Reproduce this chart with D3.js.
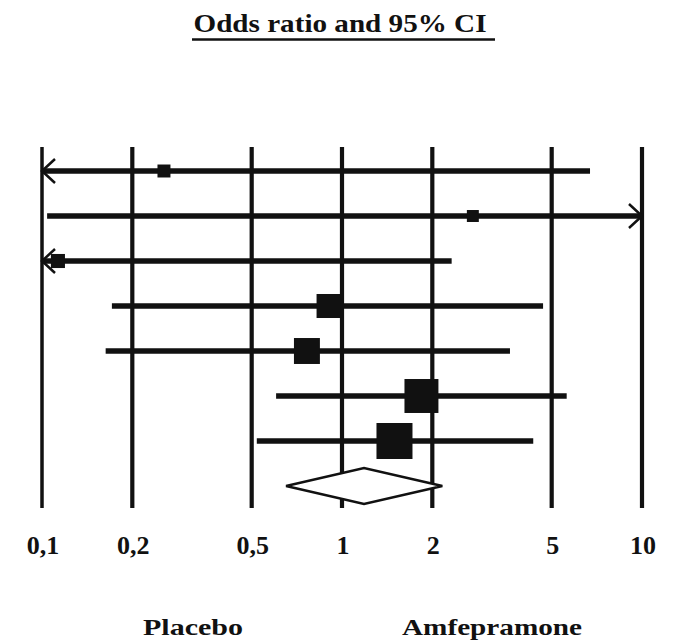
<!DOCTYPE html>
<html>
<head>
<meta charset="utf-8">
<script src="https://cdn.jsdelivr.net/npm/d3@7"></script>
<style>
  html, body { margin: 0; padding: 0; background: #fff; }
  svg { display: block; }
  text { font-family: "Liberation Serif", "Times New Roman", serif; fill: #111; }
</style>
</head>
<body>
<svg id="chart" width="675" height="643"></svg>
<script>
// Per-study odds ratios with 95% confidence limits (null = beyond the axis)
const studies  = ["S1", "S2", "S3", "S4", "S5", "S6", "S7"];
const oddsRatio = [0.255, 2.73, 0.113, 0.902, 0.764, 1.84, 1.496];
const ciLower   = [null, 0.104, null, 0.171, 0.163, 0.603, 0.520];
const ciUpper   = [6.71, null, 2.32, 4.68, 3.63, 5.61, 4.34];
const weights   = [4.0, 3.4, 4.7, 13.7, 16.0, 27.4, 30.8];

// Pooled estimate
const pooled = { or: 1.184, lo: 0.651, hi: 2.16 };

// Axis ticks and labels
const tickValues = [0.1, 0.2, 0.5, 1, 2, 5, 10];
const tickLabels = ["0,1", "0,2", "0,5", "1", "2", "5", "10"];

const title = "Odds ratio and 95% CI";
const leftLabel = "Placebo";
const rightLabel = "Amfepramone";

const svg = d3.select("#chart");
const ink = "#111";

const x = d3.scaleLog().domain([0.1, 10]).range([42, 642]);
const y = d3.scalePoint().domain([...studies, "pooled"]).range([171, 486]);
const side = d3.scaleSqrt().domain([0, d3.max(weights)]).range([0, 36]);

// Title with underline
svg.append("text")
  .attr("x", 340).attr("y", 32)
  .attr("text-anchor", "middle")
  .attr("font-size", 26).attr("font-weight", "bold")
  .attr("textLength", 293).attr("lengthAdjust", "spacingAndGlyphs")
  .text(title);
svg.append("line")
  .attr("x1", 192).attr("x2", 495).attr("y1", 39.5).attr("y2", 39.5)
  .attr("stroke", ink).attr("stroke-width", 2.5);

// Vertical reference lines at each tick
svg.append("g").selectAll("line").data(tickValues).join("line")
  .attr("x1", d => x(d)).attr("x2", d => x(d))
  .attr("y1", 147).attr("y2", 508)
  .attr("stroke", ink)
  .attr("stroke-width", d => d === 0.1 ? 3.5 : 4.2);

// Tick labels
svg.append("g").selectAll("text").data(tickValues).join("text")
  .attr("x", d => x(d) + 1).attr("y", 554)
  .attr("text-anchor", "middle")
  .attr("font-size", 26).attr("font-weight", "bold")
  .text((d, i) => tickLabels[i]);

// Confidence interval lines
const [xmin, xmax] = x.range();
const rows = studies.map((s, i) => ({
  s, or: oddsRatio[i], lo: ciLower[i], hi: ciUpper[i], w: weights[i]
}));

const g = svg.append("g");
g.selectAll("line.ci").data(rows).join("line")
  .attr("class", "ci")
  .attr("x1", d => d.lo == null ? xmin : x(d.lo))
  .attr("x2", d => d.hi == null ? xmax : x(d.hi))
  .attr("y1", d => y(d.s)).attr("y2", d => y(d.s))
  .attr("stroke", ink).attr("stroke-width", 5.5);

// Open arrowheads where the interval runs past the axis
const arrowRows = [];
rows.forEach(d => {
  if (d.lo == null) arrowRows.push({ s: d.s, dir: -1 });
  if (d.hi == null) arrowRows.push({ s: d.s, dir: 1 });
});
g.selectAll("path.arrow").data(arrowRows).join("path")
  .attr("class", "arrow")
  .attr("d", d => {
    const tip = d.dir < 0 ? xmin : xmax;
    const back = tip - d.dir * 13;
    const yy = y(d.s);
    return `M${back},${yy - 12}L${tip},${yy}L${back},${yy + 12}`;
  })
  .attr("fill", "none").attr("stroke", ink).attr("stroke-width", 2.5);

// Weighted squares at point estimates
g.selectAll("rect.pt").data(rows).join("rect")
  .attr("class", "pt")
  .attr("x", d => x(d.or) - side(d.w) / 2)
  .attr("y", d => y(d.s) - side(d.w) / 2)
  .attr("width", d => side(d.w)).attr("height", d => side(d.w))
  .attr("fill", ink);

// Pooled diamond
const py = y("pooled");
svg.append("path")
  .attr("d", `M${x(pooled.lo)},${py}L${x(pooled.or)},${py - 18}L${x(pooled.hi)},${py}L${x(pooled.or)},${py + 18}Z`)
  .attr("fill", "#fff").attr("stroke", ink).attr("stroke-width", 2.5)
  .attr("stroke-linejoin", "miter");

// Favours labels
svg.append("text")
  .attr("x", 193).attr("y", 635)
  .attr("text-anchor", "middle")
  .attr("font-size", 24).attr("font-weight", "bold")
  .attr("textLength", 100).attr("lengthAdjust", "spacingAndGlyphs")
  .text(leftLabel);
svg.append("text")
  .attr("x", 492).attr("y", 635)
  .attr("text-anchor", "middle")
  .attr("font-size", 24).attr("font-weight", "bold")
  .attr("textLength", 180).attr("lengthAdjust", "spacingAndGlyphs")
  .text(rightLabel);
</script>
</body>
</html>
